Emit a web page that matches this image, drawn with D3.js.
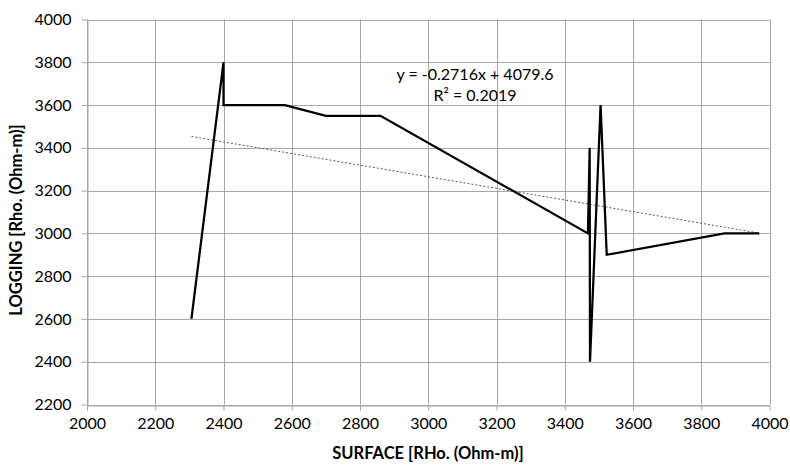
<!DOCTYPE html>
<html><head><meta charset="utf-8">
<script src="https://cdn.jsdelivr.net/npm/d3@7/dist/d3.min.js"></script>
<style>body{margin:0;background:#fff}svg{display:block}</style>
</head><body>
<script>
const surface = [2306, 2400, 2400, 2580, 2700, 2860, 3468, 3473, 3474, 3505, 3523, 3868, 3970];
const logging = [2600, 3800, 3600, 3600, 3550, 3550, 3000, 3400, 2400, 3600, 2900, 3000, 3000];
const xTicks = [2000, 2200, 2400, 2600, 2800, 3000, 3200, 3400, 3600, 3800, 4000];
const yTicks = [2200, 2400, 2600, 2800, 3000, 3200, 3400, 3600, 3800, 4000];
const trendSlope = -0.2716;
const trendIntercept = 4079.6;
const trendLabel = ["y = -0.2716x + 4079.6", "R² = 0.2019"];
const xTitle = "SURFACE [RHo. (Ohm-m)]";
const yTitle = "LOGGING [Rho. (Ohm-m)]";

const W = 790, H = 465;
const m = {left: 87, right: 20, top: 19.5, bottom: 60.5};
const svg = d3.select("body").append("svg").attr("width", W).attr("height", H);
const x = d3.scaleLinear().domain([2000, 4000]).range([m.left, 769.5]);
const y = d3.scaleLinear().domain([2200, 4000]).range([404.5, m.top]);
const font = "Lato, 'Open Sans', sans-serif";
const gridColor = "#a6a6a6";

// grid
svg.append("g").selectAll("line").data(yTicks).join("line")
  .attr("x1", x(2000)).attr("x2", x(4000))
  .attr("y1", d => Math.round(y(d)) + 0.5).attr("y2", d => Math.round(y(d)) + 0.5)
  .attr("stroke", gridColor).attr("stroke-width", 1);
svg.append("g").selectAll("line").data(xTicks).join("line")
  .attr("y1", y(2200)).attr("y2", y(4000))
  .attr("x1", d => Math.round(x(d)) + 0.5).attr("x2", d => Math.round(x(d)) + 0.5)
  .attr("stroke", gridColor).attr("stroke-width", 1);

// axes
const xAxis = d3.axisBottom(x).tickValues(xTicks).tickFormat(d3.format("d")).tickSize(5).tickSizeOuter(0).tickPadding(7);
const yAxis = d3.axisLeft(y).tickValues(yTicks).tickFormat(d3.format("d")).tickSize(6).tickSizeOuter(0).tickPadding(10);
const gx = svg.append("g").attr("transform", `translate(0,${Math.round(y(2200)) + 0.5})`).call(xAxis);
const gy = svg.append("g").attr("transform", `translate(${Math.round(x(2000)) + 0.5},0)`).call(yAxis);
[gx, gy].forEach(g => {
  g.selectAll("path,line").attr("stroke", gridColor);
  g.selectAll("text").attr("font-family", font).attr("font-size", 16).attr("fill", "#000");
});

// trendline
const xMin = d3.min(surface), xMax = d3.max(surface);
svg.append("line")
  .attr("x1", x(xMin)).attr("y1", y(trendSlope * xMin + trendIntercept))
  .attr("x2", x(xMax)).attr("y2", y(trendSlope * xMax + trendIntercept))
  .attr("stroke", "#595959").attr("stroke-width", 1).attr("stroke-dasharray", "2,2");

// data line
const pts = surface.map((s, i) => [s, logging[i]]);
svg.append("path").datum(pts)
  .attr("d", d3.line().x(d => x(d[0])).y(d => y(d[1])))
  .attr("fill", "none").attr("stroke", "#000").attr("stroke-width", 2.25)
  .attr("stroke-linejoin", "miter");

// trend label
svg.append("text").attr("x", 475).attr("y", 80).attr("text-anchor", "middle")
  .attr("font-family", font).attr("font-size", 16).text(trendLabel[0]);
svg.append("text").attr("x", 475).attr("y", 101).attr("text-anchor", "middle")
  .attr("font-family", font).attr("font-size", 16).text(trendLabel[1]);

// titles
svg.append("text").attr("x", 428).attr("y", 459).attr("text-anchor", "middle")
  .attr("font-family", font).attr("font-size", 16.5).attr("font-weight", "bold").text(xTitle);
svg.append("text").attr("transform", "translate(22,220) rotate(-90)").attr("text-anchor", "middle")
  .attr("font-family", font).attr("font-size", 16.5).attr("font-weight", "bold").text(yTitle);
</script>
</body></html>
